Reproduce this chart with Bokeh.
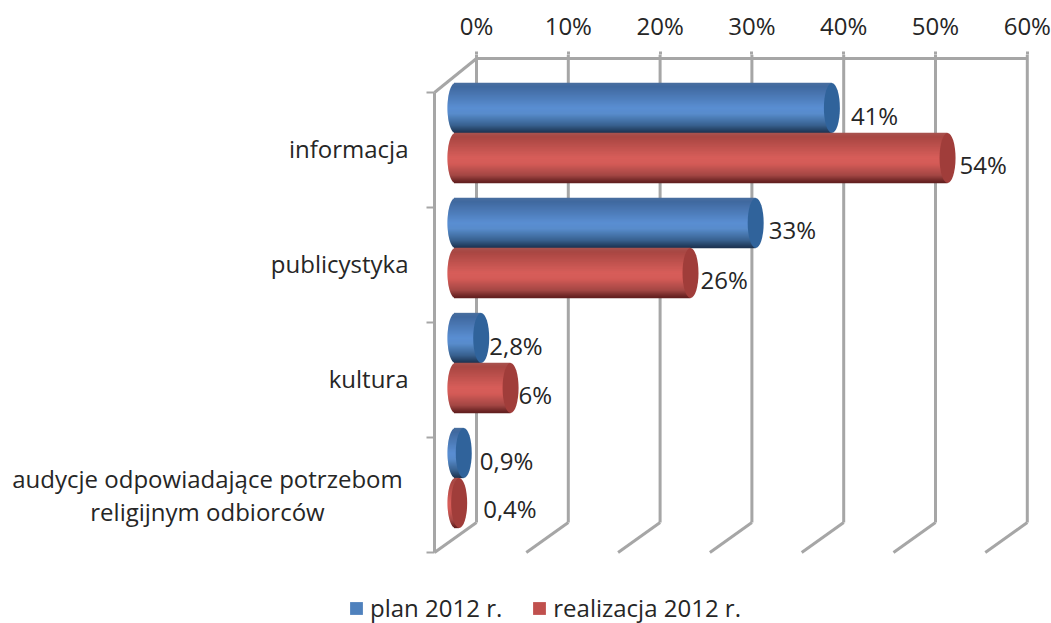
import numpy as np
from bokeh.plotting import figure
from bokeh.models import Range1d, LinearAxis, FixedTicker, Legend, LegendItem, ColumnDataSource
from bokeh.core.properties import value
from bokeh.embed import file_html
from bokeh.resources import INLINE

categories = ["informacja", "publicystyka", "kultura"]
last_category = "audycje odpowiadające potrzebom\nreligijnym odbiorców"
series_names = ["plan 2012 r.", "realizacja 2012 r."]
plan = [41, 32.7, 2.8, 0.9]
realizacja = [53.6, 25.6, 6, 0.4]
plan_labels = ["41%", "33%", "2,8%", "0,9%"]
realizacja_labels = ["54%", "26%", "6%", "0,4%"]
ticks = [0, 10, 20, 30, 40, 50, 60]
tick_labels = ["0%", "10%", "20%", "30%", "40%", "50%", "60%"]

# offsets of data labels from the bar's right edge (px)
plan_dx = [11, 5, 0, 8]
plan_dy = [7, 6, 7, 7]
real_dx = [4, 2, 0, 16]
real_dy = [6, 6, 6, 5]

FONT = "Open Sans"
FS = "24px"
TXT = "#262626"
GRID = "#a6a6a6"

PX_X = 9.18      # px per percent
PX_Y = 115.0     # px per category
X0, Y0 = 476, 92  # page px of 0% at back wall, top of front wall
W, H = 1051, 623
TOP = 54

def px2x(px):
    return (px - X0) / PX_X

def px2y(py):
    return (py - Y0) / PX_Y

p = figure(width=W, height=H, output_backend="svg", toolbar_location=None,
           x_range=Range1d(px2x(0), px2x(W)),
           y_range=Range1d(px2y(H), px2y(TOP)),
           min_border_left=0, min_border_right=0, min_border_bottom=0,
           min_border_top=TOP, outline_line_color=None,
           x_axis_type=None, y_axis_type=None)
p.xgrid.visible = False
p.ygrid.visible = False

ax = LinearAxis(ticker=FixedTicker(ticks=ticks),
                major_label_overrides=dict(zip(ticks, tick_labels)))
ax.axis_line_color = None
ax.major_tick_out = 3
ax.major_tick_in = 0
ax.major_tick_line_color = GRID
ax.major_tick_line_width = 3
ax.minor_tick_line_color = None
ax.major_label_text_font = FONT
ax.major_label_text_font_size = FS
ax.major_label_text_color = TXT
ax.major_label_standoff = 10
p.add_layout(ax, "above")

# walls and floor
back_y = px2y(58)
back_bot = px2y(522)
depth_x = px2x(434)
n = len(plan)
floor_dx = px2x(434) - px2x(476)
p.segment(ticks, [px2y(TOP)] * len(ticks), ticks, [back_bot] * len(ticks), line_color=GRID, line_width=3)
p.segment([0], [back_y], [60], [back_y], line_color=GRID, line_width=3)
p.segment(ticks, [back_bot] * len(ticks), [t + floor_dx for t in ticks], [n] * len(ticks), line_color=GRID, line_width=3)
p.segment([depth_x], [0], [depth_x], [n], line_color=GRID, line_width=3)
p.segment([depth_x], [0], [0], [back_y], line_color=GRID, line_width=3)
# category ticks on the front wall
edges = list(range(n + 1))
p.segment([px2x(426)] * len(edges), edges, [depth_x] * len(edges), edges, line_color=GRID, line_width=2)

# cylinders
STOP_T = [0.0, 0.08, 0.5, 0.62, 0.85, 1.0]
BLUE = ["#4a6f9f", "#40699f", "#5a8ed2", "#588ccc", "#38618f", "#1c324f"]
RED = ["#a85450", "#a84642", "#d75e5a", "#d45b57", "#a34744", "#5e1d1d"]
BLUE_CAP = "#30639b"
RED_CAP = "#a03d3a"
BLUE_LEG = "#4f81bd"
RED_LEG = "#c0504d"
RX = 8.0
BAR_H = 50.0
SHIFT_X = -21 / PX_X
SHIFT_Y = -17.0 / PX_Y


def hex2rgb(h):
    return np.array([int(h[i:i + 2], 16) for i in (1, 3, 5)], float)


def ramp(stops, t):
    arr = np.array([hex2rgb(s) for s in stops])
    return ["#%02x%02x%02x" % tuple(int(round(np.interp(v, STOP_T, arr[:, k]))) for k in range(3)) for v in t]


def draw_series(vals, centers, stops, cap, leg):
    xs = np.array(vals, float) + SHIFT_X
    base = p.hbar(y=centers, height=(BAR_H - 4) / PX_Y, left=[SHIFT_X] * len(vals), right=list(xs),
                  fill_color=leg, line_color=None)
    rows = 50
    t = (np.arange(rows) + 0.5) / rows
    u = np.sqrt(np.clip(1 - (2 * t - 1) ** 2, 0, 1))
    colors = ramp(stops, t)
    data = dict(y=[], left=[], right=[], color=[])
    for c, x in zip(centers, xs):
        for i in range(rows):
            data["y"].append(c + (t[i] - 0.5) * BAR_H / PX_Y)
            data["left"].append(SHIFT_X - RX * u[i] / PX_X)
            data["right"].append(x)
            data["color"].append(colors[i])
    p.hbar(y="y", height=1.35 * BAR_H / rows / PX_Y, left="left", right="right", fill_color="color",
           line_color=None, source=ColumnDataSource(data))
    p.ellipse(x=list(xs), y=centers, width=2 * RX / PX_X, height=BAR_H / PX_Y, fill_color=cap,
              line_color=None)
    return base


c_plan = [i + 0.5 + SHIFT_Y - BAR_H / 2 / PX_Y for i in range(n)]
c_real = [i + 0.5 + SHIFT_Y + BAR_H / 2 / PX_Y for i in range(n)]
r_plan = draw_series(plan, c_plan, BLUE, BLUE_CAP, BLUE_LEG)
r_real = draw_series(realizacja, c_real, RED, RED_CAP, RED_LEG)


def draw_labels(vals, centers, labels, dx, dy):
    src = ColumnDataSource(dict(x=[v + SHIFT_X for v in vals], y=centers, t=labels,
                                xo=[RX + d for d in dx], yo=dy))
    p.text(x="x", y="y", text="t", x_offset="xo", y_offset="yo", source=src, text_align="left",
           text_baseline="middle", text_font=value(FONT), text_font_size=FS, text_color=TXT)


draw_labels(plan, c_plan, plan_labels, plan_dx, plan_dy)
draw_labels(realizacja, c_real, realizacja_labels, real_dx, real_dy)

# category labels
p.text(x=[px2x(408)] * 3, y=[i + 0.5 for i in range(3)], text=categories, y_offset=-2, text_align="right",
       text_baseline="middle", text_font=value(FONT), text_font_size=FS, text_color=TXT)
p.text(x=[px2x(207)], y=[3.5], text=[last_category], text_align="center", text_baseline="middle",
       text_line_height=1.0, text_font=value(FONT), text_font_size=FS, text_color=TXT)

legend = Legend(items=[LegendItem(label=series_names[0], renderers=[r_plan]),
                       LegendItem(label=series_names[1], renderers=[r_real])],
                orientation="horizontal", location=(348, -1), padding=0, margin=0, spacing=29,
                glyph_width=16, glyph_height=16, label_standoff=6,
                label_text_font=FONT, label_text_font_size=FS, label_text_color=TXT,
                border_line_color=None, background_fill_alpha=0)
p.add_layout(legend, "center")

open("out.html", "w").write(file_html(p, INLINE))
